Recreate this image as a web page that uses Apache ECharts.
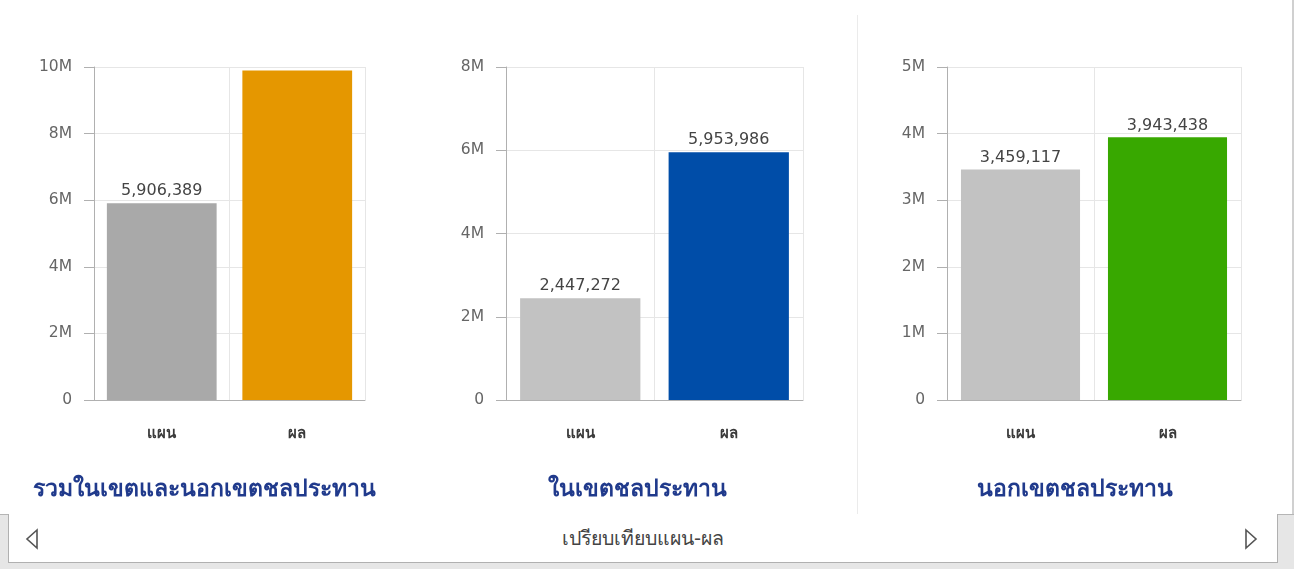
<!DOCTYPE html>
<html>
<head>
<meta charset="utf-8">
<script src="https://cdn.jsdelivr.net/npm/echarts@6/dist/echarts.min.js"></script>
<style>
  html, body { margin: 0; padding: 0; width: 1294px; height: 569px; overflow: hidden; background: #fff; font-family: Tahoma, "DejaVu Sans", "Noto Sans", sans-serif; }
  #chart { position: absolute; left: 0; top: 0; width: 1294px; height: 515px; }
  #sep { position: absolute; left: 857px; top: 15px; width: 1px; height: 500px; background: #ebebeb; }
  #redge { position: absolute; left: 1292px; top: 0; width: 2px; height: 515px; background: #d0d0d0; }
  #strip { position: absolute; left: 0; top: 514px; width: 1294px; height: 55px; background: #e6e6e6; border-top: 1px solid #b5b5b5; box-sizing: border-box; }
  #tab { position: absolute; left: 8px; top: 514px; width: 1270px; height: 49px; background: #fff; border-left: 1px solid #b0b0b0; border-right: 1px solid #b0b0b0; border-bottom: 1px solid #b0b0b0; box-sizing: border-box; }
  #tabText { position: absolute; left: 0; width: 100%; top: 9px; text-align: center; font-size: 19.5px; color: #444; }
  .arrow { position: absolute; top: 14px; }
</style>
</head>
<body>
<div id="chart"></div>
<div id="sep"></div>
<div id="redge"></div>
<div id="strip"></div>
<div id="tab">
  <svg class="arrow" style="left:16px" width="14" height="22" viewBox="0 0 14 22"><polygon points="12,2 2,11 12,20" fill="none" stroke="#555" stroke-width="1.6"/></svg>
  <div id="tabText">เปรียบเทียบแผน-ผล</div>
  <svg class="arrow" style="left:1235px" width="14" height="22" viewBox="0 0 14 22"><polygon points="2,2 12,11 2,20" fill="none" stroke="#555" stroke-width="1.6"/></svg>
</div>
<script>
const categories = ['แผน', 'ผล'];
const titles = ['รวมในเขตและนอกเขตชลประทาน', 'ในเขตชลประทาน', 'นอกเขตชลประทาน'];
const totalValues = [5906389, 9897424];
const insideValues = [2447272, 5953986];
const outsideValues = [3459117, 3943438];
const yMax = [10000000, 8000000, 5000000];
const yInterval = [2000000, 2000000, 1000000];
const showLabels = [[true, false], [true, true], [true, true]];

const colors = [['#a9a9a9', '#e59700'], ['#c2c2c2', '#004da8'], ['#c2c2c2', '#38a800']];
const grids = [
  { left: 94, top: 67, width: 271, height: 333 },
  { left: 506, top: 67, width: 297, height: 333 },
  { left: 947, top: 67, width: 294, height: 333 }
];
const titleX = [204, 637, 1075];
const seriesValues = [totalValues, insideValues, outsideValues];

const chart = echarts.init(document.getElementById('chart'), null, { renderer: 'canvas' });
const fmtNum = v => v.toLocaleString('en-US');
const fmtAxis = v => v === 0 ? '0' : (v / 1000000) + 'M';
const FONT = 'Tahoma, "DejaVu Sans", "Noto Sans", sans-serif';

const option = {
  animation: false,
  textStyle: { fontFamily: FONT },
  grid: grids.map(g => Object.assign({ containLabel: false }, g)),
  xAxis: grids.map((g, i) => ({
    type: 'category',
    gridIndex: i,
    data: categories,
    axisLine: { lineStyle: { color: '#b0b0b0' } },
    axisTick: { alignWithLabel: true, length: 9, lineStyle: { color: '#b0b0b0' } },
    axisLabel: { margin: 27, fontSize: 15, fontWeight: 'bold', color: '#3a3a3a', fontFamily: FONT },
    splitLine: { show: true, lineStyle: { color: '#e6e6e6' } }
  })),
  yAxis: grids.map((g, i) => ({
    type: 'value',
    gridIndex: i,
    min: 0,
    max: yMax[i],
    interval: yInterval[i],
    axisLine: { show: true, lineStyle: { color: '#b0b0b0' } },
    axisTick: { show: true, length: 10, lineStyle: { color: '#b0b0b0' } },
    axisLabel: { margin: 22, fontSize: 15.5, color: '#666', formatter: fmtAxis, fontFamily: FONT },
    splitLine: { show: true, lineStyle: { color: '#e6e6e6' } }
  })),
  series: seriesValues.map((vals, i) => ({
    type: 'bar',
    xAxisIndex: i,
    yAxisIndex: i,
    barCategoryGap: '19%',
    data: vals.map((v, j) => ({
      value: v,
      itemStyle: { color: colors[i][j] },
      label: { show: showLabels[i][j] }
    })),
    label: {
      position: 'top',
      distance: 4,
      fontSize: 16,
      color: '#444',
      fontFamily: FONT,
      formatter: p => fmtNum(p.value)
    }
  })),
  graphic: titles.map((t, i) => ({
    type: 'text',
    x: titleX[i],
    y: 490,
    style: {
      text: t,
      align: 'center',
      verticalAlign: 'middle',
      textAlign: 'center',
      textVerticalAlign: 'middle',
      font: 'bold 23px ' + FONT,
      fill: '#203a8c'
    }
  }))
};
chart.setOption(option);
</script>
</body>
</html>
